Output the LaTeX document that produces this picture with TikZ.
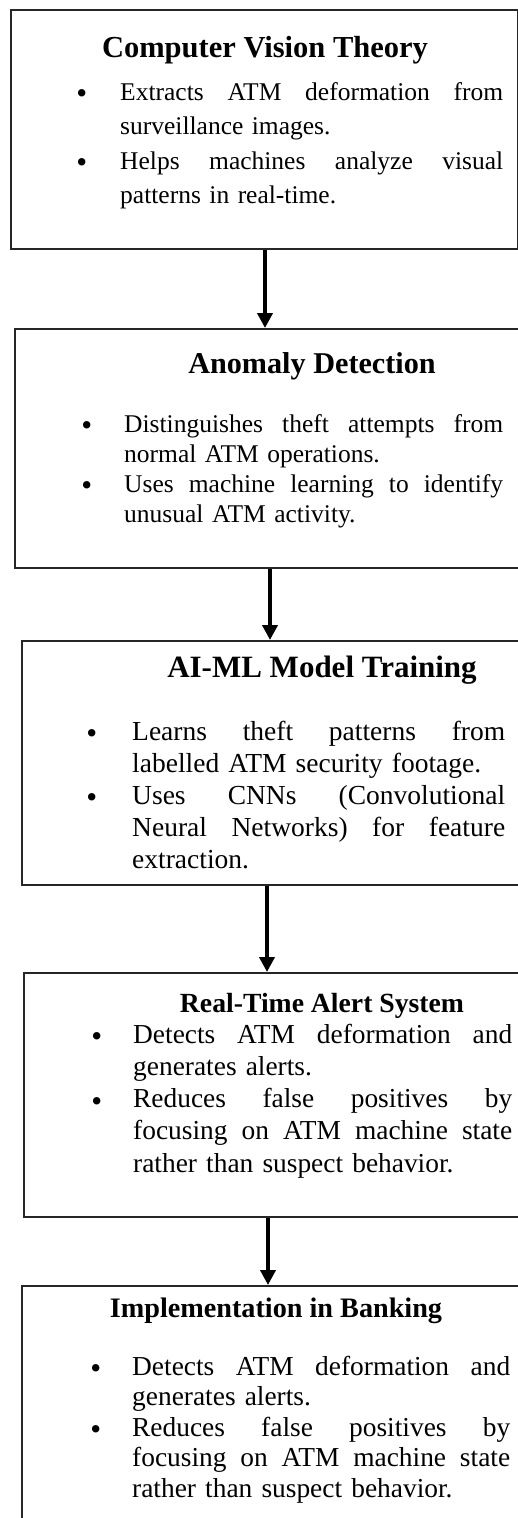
\documentclass[tikz,border=0pt]{standalone}
\usepackage{fontspec}
\setmainfont{Liberation Serif}
\usetikzlibrary{arrows.meta}
% a fully justified line as wide as the text block: spaces share the slack
\newcommand{\jline}[1]{\makebox[\hsize][s]{\spaceskip=0.25em plus 1fil\relax#1}}
% a bullet hung to the left of the text start
\newcommand{\bul}[1]{\llap{\raisebox{-3.5pt}{\fontsize{31}{31}\selectfont\textbullet}\hspace{#1}}}
\begin{document}
\begin{tikzpicture}[x=1pt,y=-1pt]
\tikzset{
  panel/.style={draw=black!85, line width=2pt, fill=white, anchor=north west,
                inner sep=0pt, rectangle},
  head/.style={font=\bfseries\fontsize{#1}{#1}\selectfont, anchor=base, inner sep=0pt},
  body/.style={anchor=base west, inner sep=0pt, text width=#1},
  flow/.style={line width=4pt, draw=black, -{Triangle[width=15pt,length=15pt]}}
}
\useasboundingbox (0,0) rectangle (518,1518);
\fill[white] (0,0) rectangle (518,1518);
\clip (0,0) rectangle (518,1518);

% panels
\node[panel, minimum width=507pt, minimum height=239pt] (p1) at (10,9) {};
\node[panel, minimum width=526pt, minimum height=239pt] (p2) at (14,328) {};
\node[panel, minimum width=520pt, minimum height=244pt] (p3) at (21,640) {};
\node[panel, minimum width=520pt, minimum height=244pt] (p4) at (23,972) {};
\node[panel, minimum width=520pt, minimum height=260pt] (p5) at (21,1285) {};

% headings
\node[head=30.5] (h1) at (265,57) {Computer Vision Theory};
\node[head=30.2] (h2) at (312,373) {Anomaly Detection};
\node[head=31] (h3) at (322,677) {AI-ML Model Training};
\node[head=27.7] (h4) at (322,1012) {Real-Time Alert System};
\node[head=28.2] (h5) at (276,1317) {Implementation in Banking};

% bullet texts
\node[body=383pt, font=\fontsize{25.5}{34.5}\selectfont] (t1) at (120,100)
  {\jline{\bul{33pt}Extracts ATM deformation from}\\
   surveillance images.\\
   \jline{\bul{33pt}Helps machines analyze visual}\\
   patterns in real-time.};
\node[body=379pt, font=\fontsize{25.5}{30}\selectfont] (t2) at (124,432)
  {\jline{\bul{32pt}Distinguishes theft attempts from}\\
   normal ATM operations.\\
   \jline{\bul{32pt}Uses machine learning to identify}\\
   unusual ATM activity.};
\node[body=373pt, font=\fontsize{27.5}{32}\selectfont] (t3) at (132,740)
  {\jline{\bul{35pt}Learns theft patterns from}\\
   labelled ATM security footage.\\
   \jline{\bul{35pt}Uses CNNs (Convolutional}\\
   \jline{Neural Networks) for feature}\\
   extraction.};
\node[body=379pt, font=\fontsize{27.4}{32.3}\selectfont] (t4) at (133,1043)
  {\jline{\bul{31pt}Detects ATM deformation and}\\
   generates alerts.\\
   \jline{\bul{31pt}Reduces false positives by}\\
   \jline{focusing on ATM machine state}\\
   rather than suspect behavior.};
\node[body=378pt, font=\fontsize{27.4}{30.5}\selectfont] (t5) at (132,1375)
  {\jline{\bul{31pt}Detects ATM deformation and}\\
   generates alerts.\\
   \jline{\bul{31pt}Reduces false positives by}\\
   \jline{focusing on ATM machine state}\\
   rather than suspect behavior.};

% connectors
\coordinate (x1) at (265,0);
\coordinate (x2) at (270,0);
\coordinate (x3) at (267,0);
\coordinate (x4) at (268,0);
\draw[flow] (p1.south -| x1) -- (p2.north -| x1);
\draw[flow] (p2.south -| x2) -- (p3.north -| x2);
\draw[flow] (p3.south -| x3) -- (p4.north -| x3);
\draw[flow] (p4.south -| x4) -- (p5.north -| x4);
\end{tikzpicture}
\end{document}
